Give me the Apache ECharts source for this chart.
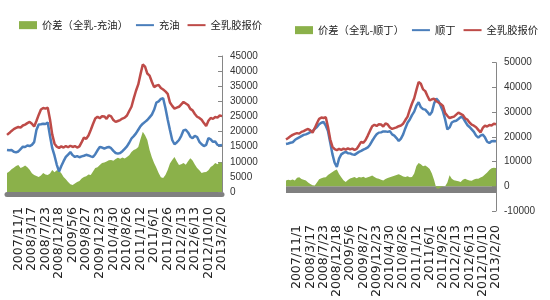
<!DOCTYPE html>
<html>
<head>
<meta charset="utf-8">
<script src="https://cdn.jsdelivr.net/npm/echarts@6/dist/echarts.min.js"></script>
<style>html,body{margin:0;padding:0;background:#fff;}#c{width:550px;height:300px;}</style>
</head>
<body>
<div id="c"></div>
<script>
// tick labels shown on both category axes
const dateLabels = ['2007/11/1','2008/3/17','2008/7/23','2008/12/18','2009/5/6','2009/8/27','2009/12/23','2010/4/30','2010/8/26','2011/1/12','2011/6/1','2011/9/26','2012/2/13','2012/6/13','2012/10/10','2013/2/20'];
const LEAD = 5, STEP = 6; // points before first label, points between labels

// 全乳胶报价 (shared by both charts)
const rubberPrice = [18900,19500,20200,20800,21200,21500,21300,22000,22300,22800,
23200,22600,21700,23500,25500,27300,27800,27600,27900,24000,
19000,16000,15000,14600,15100,14700,15200,14800,15300,14900,
15200,14700,15100,16500,18000,17600,18700,20500,22500,24300,
24900,24400,25100,25000,24200,25400,25000,23800,23200,23500,
23800,24300,24600,25300,26800,28200,31000,33500,35600,39000,
42200,41500,39200,38500,36500,34700,35200,35400,34400,33900,
33300,32500,29600,28500,27600,27900,28200,29000,29800,29300,
28800,27500,27000,25800,24900,24500,23900,22800,21800,23600,
24500,24200,24800,24600,25300,25100];

// 充油
const oilExtended = [13900,13800,13900,13300,13100,13400,14200,15000,14900,15400,
15200,15600,16500,20500,22300,22400,22600,22500,23000,18500,
14500,12000,9000,6800,8600,10200,11600,12400,13200,12200,
11600,11900,11500,11800,12000,12300,12100,11800,11600,12500,
13800,14900,14700,14400,14700,14900,14500,13600,12900,12700,
12900,13500,14300,15100,16300,17700,18500,19400,20600,21800,
22600,23200,23800,24700,25600,27200,29600,30000,30800,31000,
27800,24000,20500,17200,15800,16400,17200,18600,20400,20600,
19700,18300,17800,18600,18200,16600,15800,15200,15600,17800,
17400,16600,16700,15600,15400,15600];

// 价差（全乳-充油）
const spreadOil = [6300,6800,7500,8000,8600,8900,7900,8300,8800,8200,
7400,6200,5600,5300,5000,5500,6300,5800,5600,6100,
7300,6500,7200,7000,6200,5000,4200,3300,2600,2300,
2800,3300,3600,4500,5000,5200,5800,5600,6800,7900,
8200,8900,9600,9800,10100,10500,10600,10300,10900,11300,
11000,11400,11100,11600,12200,13200,13900,14200,14900,17500,
19900,18800,17200,13900,11500,9600,8000,6300,4900,4600,
5600,7300,9400,10600,11600,10200,8900,9200,9600,9000,
10200,11200,10400,9100,7900,7200,6300,6500,6600,7200,
8300,8800,9600,9200,9900,9600];

// 顺丁
const butadiene = [17100,17300,17600,17800,18700,19300,19800,20300,20800,21000,
21400,21900,22300,23200,24000,25100,25700,26000,24500,22300,
17700,13000,9500,7800,11200,12900,13500,13900,13400,13300,
12900,12700,13300,13900,14300,14800,15200,15700,16800,18400,
19800,21000,21700,21800,22200,22200,22000,22300,21000,20500,
19500,18300,19300,21000,23500,25700,27000,28800,30200,32600,
34000,32000,31200,31000,30000,28800,30000,33500,35500,34500,
32500,30300,27000,23000,23800,25800,26300,26500,27200,28000,
27800,26300,24800,24000,23000,22000,20500,19700,20500,20900,
19800,18000,17500,18200,18300,18200];

// 价差（全乳-顺丁）
const spreadBr = [2300,2600,2400,2700,2300,3400,3600,2900,2600,2300,
1500,900,400,300,1500,2800,3200,3500,3600,4600,
5200,5800,6400,6800,5000,3600,2400,1700,2500,3100,
3400,3700,3200,3700,3500,3800,3300,3600,3900,4300,
3700,3200,3000,2600,2300,2900,3300,3600,3900,4200,
4600,4900,4500,3900,3700,4000,3600,3700,5200,8200,
9400,8900,8100,8400,7800,7000,5200,2500,-800,-1000,
-500,-200,0,1500,4500,3000,2400,2200,2000,1700,
2600,3000,2600,2300,2200,2700,3000,3000,3500,3900,
4800,5600,6600,7300,7500,7400];

const N = rubberPrice.length;
const categories = Array.from({length: N}, (_, i) => String(i));
const isLabel = (i) => i >= LEAD && (i - LEAD) % STEP === 0;
const labelFor = (v, i) => isLabel(i) ? dateLabels[(i - LEAD) / STEP] : '';

const GREEN = '#8BB14A', BLUE = '#4A7EBB', RED = '#BE4B48', GREY = '#808080';
const NO_DOT = {color: 'rgba(0,0,0,0)', borderColor: 'rgba(0,0,0,0)', borderWidth: 0, opacity: 0};

function xAxisCfg(gi, margin, extra) {
  return Object.assign({
    gridIndex: gi, type: 'category', data: categories, boundaryGap: false,
    axisTick: {show: false},
    axisLabel: {
      interval: (i) => isLabel(i), formatter: labelFor, rotate: 90, margin: margin,
      fontFamily: 'DejaVu Sans', fontSize: 12.5, color: '#222'
    }
  }, extra);
}
function yAxisCfg(gi, min, max, interval) {
  return {
    gridIndex: gi, type: 'value', position: 'right', min: min, max: max, interval: interval,
    axisLine: {show: true, lineStyle: {color: '#868686', width: 1}},
    axisTick: {show: true, inside: true, length: 4, lineStyle: {color: '#868686'}},
    splitLine: {show: false},
    axisLabel: {margin: 8, fontFamily: 'Liberation Sans', fontSize: 10, color: '#333',
      formatter: (v) => String(v)}
  };
}
const lineSeries = (name, data, color, xi) => ({
  name: name, type: 'line', xAxisIndex: xi, yAxisIndex: xi, data: data,
  symbol: 'none', showSymbol: false, lineStyle: {color: color, width: 2.5}, itemStyle: {color: color},
  animation: false
});
const areaSeries = (name, data, xi, extra) => Object.assign({
  name: name, type: 'line', xAxisIndex: xi, yAxisIndex: xi, data: data,
  symbol: 'none', showSymbol: false, lineStyle: {width: 0}, itemStyle: {color: GREEN},
  areaStyle: {color: GREEN, opacity: 1}, animation: false
}, extra || {});

const legendText = {fontFamily: 'Noto Sans CJK SC', fontSize: 10.3, color: '#222'};

const option = {
  backgroundColor: '#fff',
  animation: false,
  legend: [
    {left: 14, top: 15, width: 270, itemWidth: 18, itemHeight: 8, itemGap: 7, textStyle: legendText,
     data: [{name: '价差（全乳-充油）', icon: 'rect'}, {name: '充油', itemStyle: NO_DOT}, {name: '全乳胶报价', itemStyle: NO_DOT}]},
    {left: 290, top: 20, width: 260, itemWidth: 18, itemHeight: 8, itemGap: 7, textStyle: legendText,
     data: [{name: '价差（全乳-顺丁）', icon: 'rect'}, {name: '顺丁', itemStyle: NO_DOT}, {name: '全乳胶报价', itemStyle: NO_DOT}]}
  ],
  grid: [
    {left: 7, right: 328, top: 56, bottom: 108},
    {left: 286, right: 54, top: 62.7, bottom: 81.3}
  ],
  xAxis: [
    xAxisCfg(0, 13, {offset: 2, axisLine: {onZero: false, lineStyle: {color: GREY, width: 5}}}),
    xAxisCfg(1, 14, {axisLine: {onZero: true, show: false}})
  ],
  yAxis: [
    yAxisCfg(0, 0, 45000, 5000),
    yAxisCfg(1, -10000, 50000, 10000)
  ],
  series: [
    areaSeries('价差（全乳-充油）', spreadOil, 0),
    lineSeries('充油', oilExtended, BLUE, 0),
    lineSeries('全乳胶报价', rubberPrice, RED, 0),
    areaSeries('价差（全乳-顺丁）', spreadBr, 1, {
      markArea: {silent: true, itemStyle: {color: GREY, opacity: 1},
        data: [[{xAxis: categories[0], yAxis: 0}, {xAxis: categories[N - 1], yAxis: -2700}]]}
    }),
    lineSeries('顺丁', butadiene, BLUE, 1),
    lineSeries('全乳胶报价', rubberPrice, RED, 1)
  ]
};
const chart = echarts.init(document.getElementById('c'), null, {renderer: 'canvas'});
chart.setOption(option);
</script>
</body>
</html>
